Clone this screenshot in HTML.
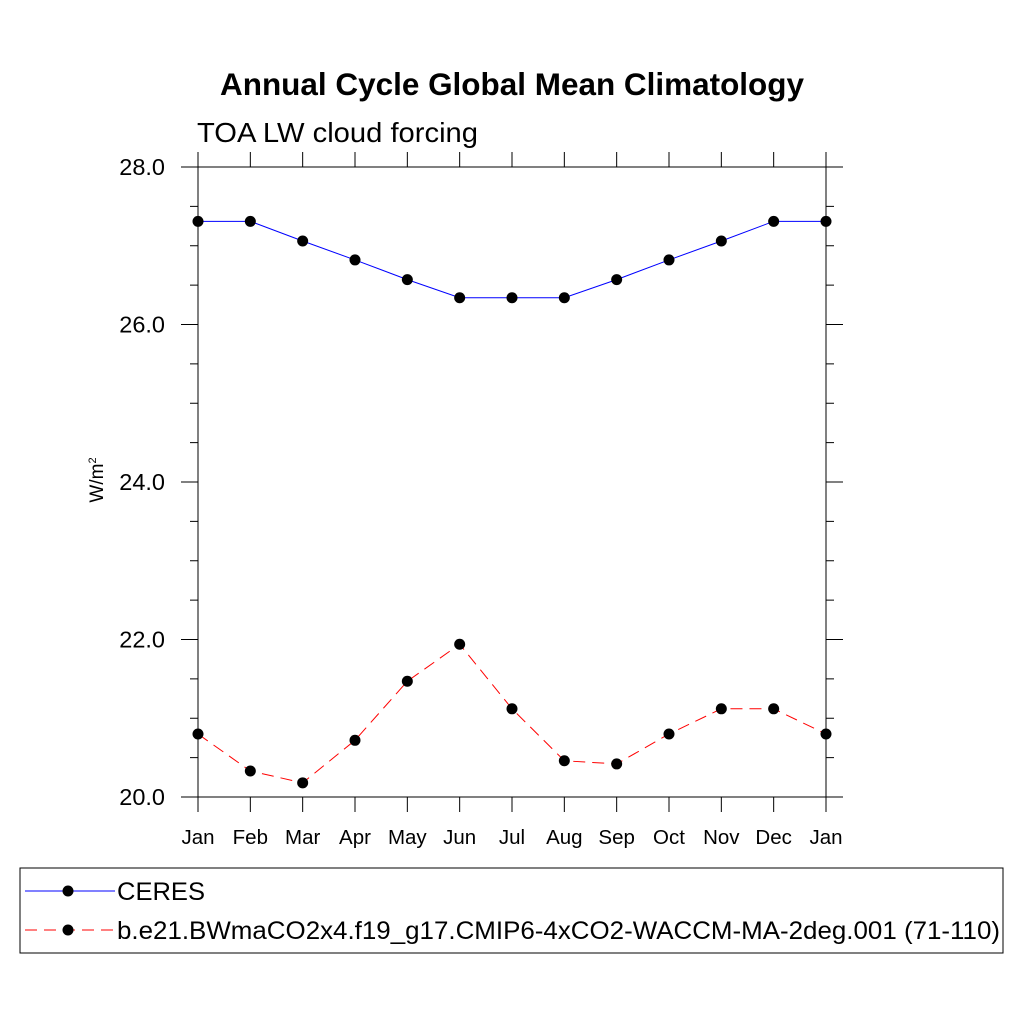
<!DOCTYPE html>
<html><head><meta charset="utf-8"><style>
body{margin:0;background:#fff;}
svg text{font-family:"Liberation Sans",sans-serif;}
</style></head><body>
<svg id="chart" width="1024" height="1024" viewBox="0 0 1024 1024">
<text x="220" y="95" textLength="584" lengthAdjust="spacingAndGlyphs" font-size="31.5" font-weight="bold">Annual Cycle Global Mean Climatology</text>
<text x="197" y="142" textLength="281" lengthAdjust="spacingAndGlyphs" font-size="28">TOA LW cloud forcing</text>
<text transform="translate(103,480) rotate(-90)" text-anchor="middle" font-size="19">W/m<tspan font-size="11" dy="-7">2</tspan></text>
<g id="axes"></g>
<g id="series"></g>
<rect x="20" y="868" width="983" height="85" fill="none" stroke="#000" stroke-width="1"/>
<line x1="25" y1="891" x2="115" y2="891" stroke="#0000ff" stroke-width="1"/>
<circle cx="68" cy="891" r="5.5" fill="#000"/>
<text x="117" y="900" textLength="88" lengthAdjust="spacingAndGlyphs" font-size="25">CERES</text>
<line x1="25" y1="930" x2="115" y2="930" stroke="#ff0000" stroke-width="1" stroke-dasharray="12,7"/>
<circle cx="68" cy="930" r="5.5" fill="#000"/>
<text x="117" y="939" textLength="883" lengthAdjust="spacingAndGlyphs" font-size="25">b.e21.BWmaCO2x4.f19_g17.CMIP6-4xCO2-WACCM-MA-2deg.001 (71-110)</text>
</svg>
<script>
const months = ["Jan","Feb","Mar","Apr","May","Jun","Jul","Aug","Sep","Oct","Nov","Dec","Jan"];
const ceres = [27.31,27.31,27.06,26.82,26.57,26.34,26.34,26.34,26.57,26.82,27.06,27.31,27.31];
const model = [20.80,20.33,20.18,20.72,21.47,21.94,21.12,20.46,20.42,20.80,21.12,21.12,20.80];
const yTicks = [20,22,24,26,28];
const yTickLabels = ["20.0","22.0","24.0","26.0","28.0"];
const NS="http://www.w3.org/2000/svg";
const L=198,R=826,T=167,B=797,yMin=20,yMax=28;
const xs=i=>L+(R-L)*i/(months.length-1);
const ys=v=>B-(v-yMin)/(yMax-yMin)*(B-T);
function mk(tag,attrs,parent){const e=document.createElementNS(NS,tag);for(const k in attrs)e.setAttribute(k,attrs[k]);parent.appendChild(e);return e;}
const ax=document.getElementById('axes');
const frame=mk('rect',{x:L,y:T,width:R-L,height:B-T,fill:'none',stroke:'#000','stroke-width':1},ax);


for(let v=yMin;v<=yMax+1e-9;v+=0.5){
  const major=Math.abs(v-Math.round(v/2)*2)<1e-9;const len=major?17:8;const y=ys(v);
  const t1=mk('line',{x1:L-len,y1:y,x2:L,y2:y,stroke:'#000'},ax);
  
  
  const t2=mk('line',{x1:R,y1:y,x2:R+len,y2:y,stroke:'#000'},ax);
  
  
}
yTicks.forEach((v,i)=>{
  const t=mk('text',{x:165,y:ys(v)+8,'text-anchor':'end','font-size':23.5},ax);t.textContent=yTickLabels[i];
  
  
});
months.forEach((m,i)=>{
  const x=xs(i);
  const a=mk('line',{x1:x,y1:B,x2:x,y2:B+15,stroke:'#000'},ax);
  
  
  const b=mk('line',{x1:x,y1:T-15,x2:x,y2:T,stroke:'#000'},ax);
  
  
  const t=mk('text',{x:x,y:844,'text-anchor':'middle','font-size':20.5},ax);t.textContent=m;
  
  
});
const sg=document.getElementById('series');
function series(data,color,dash,name){
  const pts=data.map((v,i)=>xs(i)+','+ys(v)).join(' ');
  const pl=mk('polyline',{points:pts,fill:'none',stroke:color,'stroke-width':1,'stroke-dasharray':dash},sg);
  
  
  data.forEach((v,i)=>{
    const c=mk('circle',{cx:xs(i),cy:ys(v),r:5.5,fill:'#000'},sg);
    
    
  });
}
series(ceres,'#0000ff','none','ceres');
series(model,'#ff0000','12,7','model');
</script>
</body></html>
